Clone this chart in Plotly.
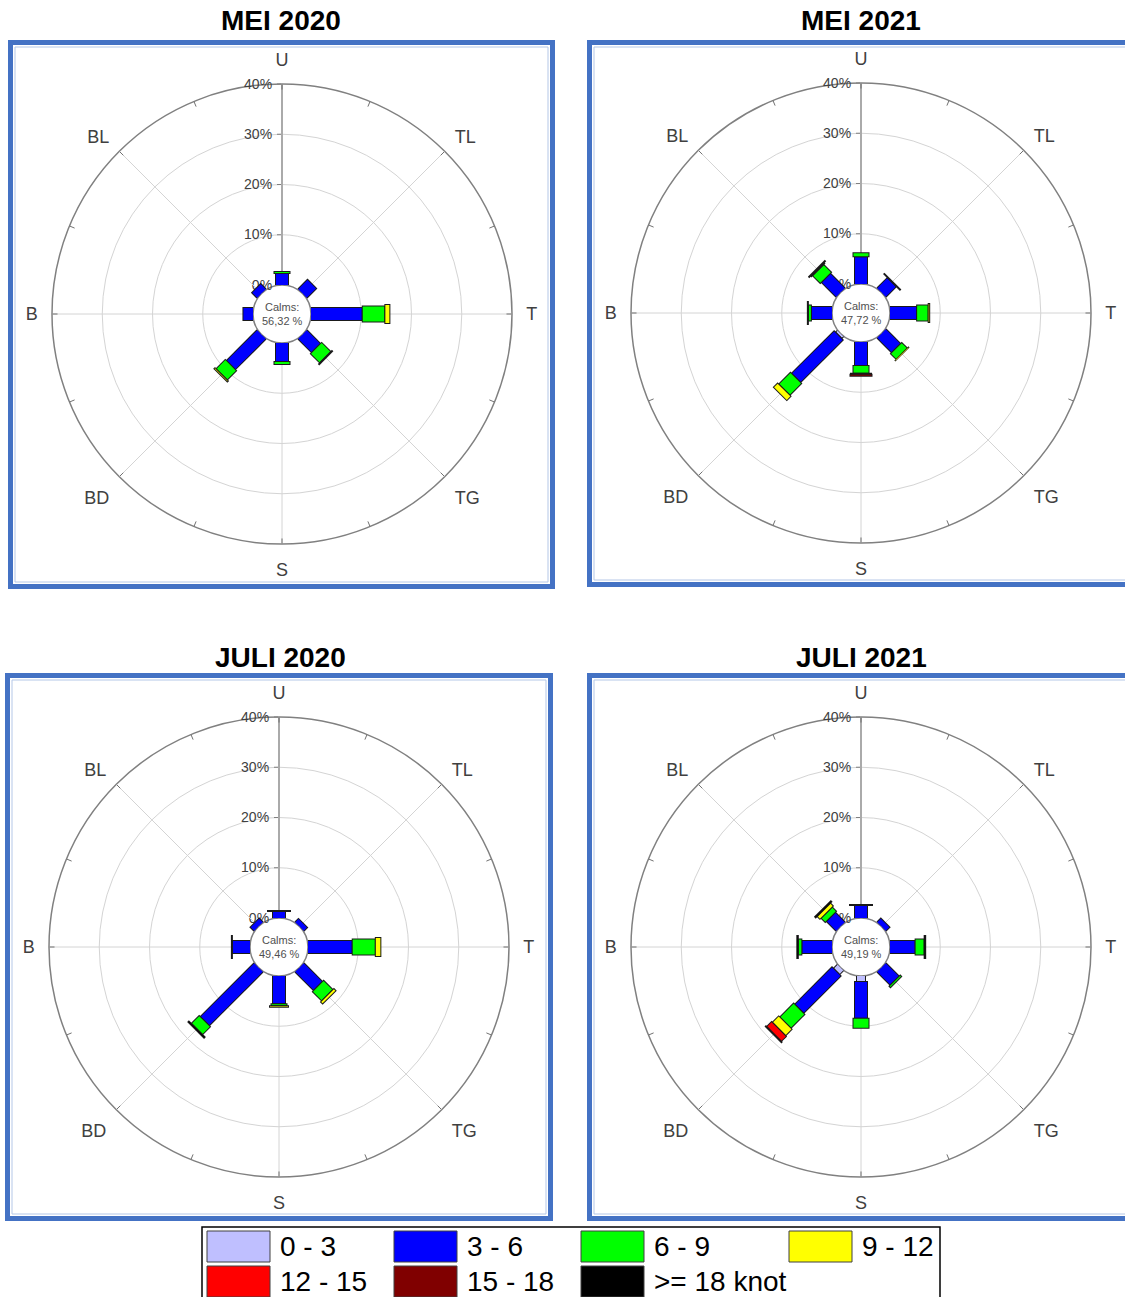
import plotly.graph_objects as go

W, H = 1125, 1297
FONT = "Liberation Sans, Arial, sans-serif"

# ---------------- data ----------------
DIRECTIONS = ["U", "TL", "T", "TG", "S", "BD", "B", "BL"]
DIR_DEG = [0, 45, 90, 135, 180, 225, 270, 315]
CLASS_LABELS = ["0 - 3", "3 - 6", "6 - 9", "9 - 12", "12 - 15", "15 - 18", ">= 18 knot"]
CLASS_COLORS = ["#BFBFFF", "#0000FF", "#00FF00", "#FFFF00", "#FF0000", "#800000", "#000000"]
RADIAL_TICKS = [0, 10, 20, 30, 40]
RADIAL_TICK_TEXT = ["0%", "10%", "20%", "30%", "40%"]
MINOR_DEG = [0, 22.5, 45, 67.5, 90, 112.5, 135, 157.5, 180, 202.5, 225, 247.5, 270, 292.5, 315, 337.5]

TITLES = ["MEI 2020", "MEI 2021", "JULI 2020", "JULI 2021"]
CALMS = ["56,32 %", "47,72 %", "49,46 %", "49,19 %"]

# frequency (%) : rows = speed classes, cols = directions (U, TL, T, TG, S, BD, B, BL)
MEI_2020 = [
    [0, 0, 0, 0, 0, 0, 0, 0],
    [2.2, 2.6, 10.1, 3.7, 3.6, 8.5, 1.9, 1.4],
    [0.4, 0, 4.5, 2.6, 0.6, 2.6, 0, 0],
    [0, 0, 1.0, 0.2, 0, 0.3, 0, 0],
    [0, 0, 0, 0, 0, 0, 0, 0],
    [0, 0, 0, 0, 0, 0, 0, 0],
    [0, 0, 0, 0, 0, 0, 0, 0],
]
MEI_2021 = [
    [0, 0, 0, 0, 0, 0.4, 0, 0],
    [5.3, 2.8, 5.2, 4.0, 4.6, 12.0, 4.0, 4.0],
    [0.8, 0, 2.3, 1.6, 1.5, 3.3, 0.6, 2.2],
    [0, 0, 0.3, 0.1, 0, 1.2, 0, 0.2],
    [0, 0, 0, 0, 0.2, 0, 0, 0],
    [0, 0, 0, 0, 0.4, 0, 0, 0],
    [0, 0.2, 0, 0, 0, 0, 0.2, 0.2],
]
JULI_2020 = [
    [0, 0, 0, 0, 0, 0, 0, 0],
    [1.2, 0.9, 8.7, 5.1, 5.4, 15.0, 3.4, 1.0],
    [0, 0, 4.6, 2.6, 0.4, 2.2, 0, 0],
    [0, 0, 1.1, 0.6, 0.3, 0, 0, 0],
    [0, 0, 0, 0, 0, 0, 0, 0],
    [0, 0, 0, 0, 0, 0, 0, 0],
    [0.2, 0, 0, 0, 0, 0.3, 0.2, 0],
]
JULI_2021 = [
    [0, 0, 0, 0, 1.0, 1.0, 0, 0],
    [2.4, 1.0, 4.9, 3.6, 7.3, 10.5, 5.9, 2.6],
    [0, 0, 1.8, 0.4, 2.0, 3.9, 0.7, 1.2],
    [0, 0, 0, 0, 0, 1.8, 0, 0.8],
    [0, 0, 0, 0, 0, 1.4, 0, 0],
    [0, 0, 0, 0, 0, 0, 0, 0],
    [0.2, 0, 0.3, 0, 0, 0.2, 0.3, 0.3],
]
PANEL_DATA = [MEI_2020, MEI_2021, JULI_2020, JULI_2021]

# ---------------- style / geometry ----------------
R_OUT = 230          # outer circle radius in px
R_HOLE = 29          # calms circle radius in px
CENTERS = [(282, 314), (861, 313), (279, 947), (861, 947)]
FRAMES = [(8, 40, 555, 589), (587, 40, 1135, 587), (5, 673, 553, 1221), (587, 673, 1135, 1221)]
TITLE_POS = [(281, 20), (861, 20), (280, 657), (861, 657)]
CLASS_WIDTHS = [10, 14, 17, 20, 22, 23, 24]
EXT = 0.2


def fx(x):
    return x / W


def fy(y):
    return 1 - y / H


fig = go.Figure()
layout = dict(
    width=W, height=H, margin=dict(l=0, r=0, t=0, b=0),
    paper_bgcolor="white", plot_bgcolor="white", showlegend=False,
    font=dict(family=FONT),
)
shapes = []
annotations = []

for i, data in enumerate(PANEL_DATA):
    sub = "polar" if i == 0 else f"polar{i + 1}"
    cx, cy = CENTERS[i]

    # spokes
    sr, st = [], []
    for d in DIR_DEG:
        sr += [0, 40, None]
        st += [d, d, None]
    fig.add_trace(go.Scatterpolar(r=sr, theta=st, mode="lines", subplot=sub,
                                  line=dict(color="#d4d4d4", width=1), hoverinfo="skip"))
    # small inward ticks on the outer circle
    tr, tt = [], []
    for d in MINOR_DEG:
        tr += [38.9, 40, None]
        tt += [d, d, None]
    fig.add_trace(go.Scatterpolar(r=tr, theta=tt, mode="lines", subplot=sub,
                                  line=dict(color="#707070", width=1), hoverinfo="skip"))

    # stacked bars drawn as constant-width radial strokes
    cum = [0.0] * len(DIR_DEG)
    for k, row in enumerate(data):
        br, bt, cr, ct = [], [], [], []
        for j, v in enumerate(row):
            if v <= 0:
                continue
            r0 = cum[j]
            r1 = r0 + v
            br += [r0, r1 + EXT, None]
            bt += [DIR_DEG[j], DIR_DEG[j], None]
            start = r0 + (EXT if r0 > 0 else 0)
            cr += [start, r1, None]
            ct += [DIR_DEG[j], DIR_DEG[j], None]
            cum[j] = r1
        if br:
            fig.add_trace(go.Scatterpolar(r=br, theta=bt, mode="lines", subplot=sub,
                                          line=dict(color="#1a1a1a", width=CLASS_WIDTHS[k]),
                                          hoverinfo="skip"))
            fig.add_trace(go.Scatterpolar(r=cr, theta=ct, mode="lines", subplot=sub,
                                          line=dict(color=CLASS_COLORS[k], width=CLASS_WIDTHS[k] - 2),
                                          hoverinfo="skip"))

    layout[sub] = dict(
        domain=dict(x=[fx(cx - R_OUT), fx(cx + R_OUT)], y=[fy(cy + R_OUT), fy(cy - R_OUT)]),
        hole=R_HOLE / R_OUT,
        bgcolor="white",
        radialaxis=dict(range=[0, 40], tickvals=RADIAL_TICKS, ticktext=RADIAL_TICK_TEXT,
                        angle=90, tickangle=90, side="counterclockwise",
                        showline=True, linecolor="#808080", linewidth=2,
                        gridcolor="#d4d4d4", gridwidth=1,
                        ticks="outside", ticklen=4, tickcolor="#808080",
                        tickfont=dict(size=14, color="#404040", family=FONT),
                        layer="below traces"),
        angularaxis=dict(rotation=90, direction="clockwise", tickvals=DIR_DEG, ticktext=DIRECTIONS,
                         showgrid=False, showline=True, linecolor="#808080", linewidth=1.5,
                         ticks="outside", ticklen=10, tickcolor="rgba(0,0,0,0)",
                         tickfont=dict(size=18, color="#404040", family=FONT),
                         layer="below traces"),
    )

    # frame
    x0, y0, x1, y1 = FRAMES[i]
    shapes.append(dict(type="rect", xref="paper", yref="paper",
                       x0=fx(x0 + 2.5), x1=fx(x1 - 2.5), y0=fy(y1 - 2.5), y1=fy(y0 + 2.5),
                       line=dict(color="#4472C4", width=5), fillcolor="rgba(0,0,0,0)", layer="below"))
    shapes.append(dict(type="rect", xref="paper", yref="paper",
                       x0=fx(x0 + 7), x1=fx(x1 - 7), y0=fy(y1 - 7), y1=fy(y0 + 7),
                       line=dict(color="#B4C7E7", width=1), fillcolor="rgba(0,0,0,0)", layer="below"))

    # title
    tx, ty = TITLE_POS[i]
    annotations.append(dict(text=f"<b>{TITLES[i]}</b>", x=fx(tx), y=fy(ty), xref="paper", yref="paper",
                            xanchor="center", yanchor="middle", showarrow=False,
                            font=dict(size=28, color="black", family=FONT)))
    # calms
    annotations.append(dict(text=f"Calms:<br>{CALMS[i]}", x=fx(cx), y=fy(cy), xref="paper", yref="paper",
                            xanchor="center", yanchor="middle", showarrow=False, align="center",
                            font=dict(size=11, color="#505050", family=FONT)))

# ---------------- legend ----------------
shapes.append(dict(type="rect", xref="paper", yref="paper",
                   x0=fx(202), x1=fx(940), y0=fy(1310), y1=fy(1227),
                   line=dict(color="black", width=1.5), fillcolor="white"))
LEG_COL_X = [207, 394, 581, 789]
LEG_ROW_Y = [1231, 1266]
for k, lab in enumerate(CLASS_LABELS):
    col = k % 4
    row = k // 4
    sx = LEG_COL_X[col]
    sy = LEG_ROW_Y[row]
    shapes.append(dict(type="rect", xref="paper", yref="paper",
                       x0=fx(sx), x1=fx(sx + 63), y0=fy(sy + 31), y1=fy(sy),
                       line=dict(color="#404040", width=1), fillcolor=CLASS_COLORS[k]))
    annotations.append(dict(text=lab, x=fx(sx + 71), y=fy(sy + 15.5), xref="paper", yref="paper",
                            xanchor="left", yanchor="middle", showarrow=False,
                            font=dict(size=28, color="black", family=FONT)))

layout["shapes"] = shapes
layout["annotations"] = annotations
fig.update_layout(**layout)
fig.write_html("out.html", config={"displayModeBar": False},
               post_script="document.body.style.margin='0';document.body.style.overflow='hidden';")
